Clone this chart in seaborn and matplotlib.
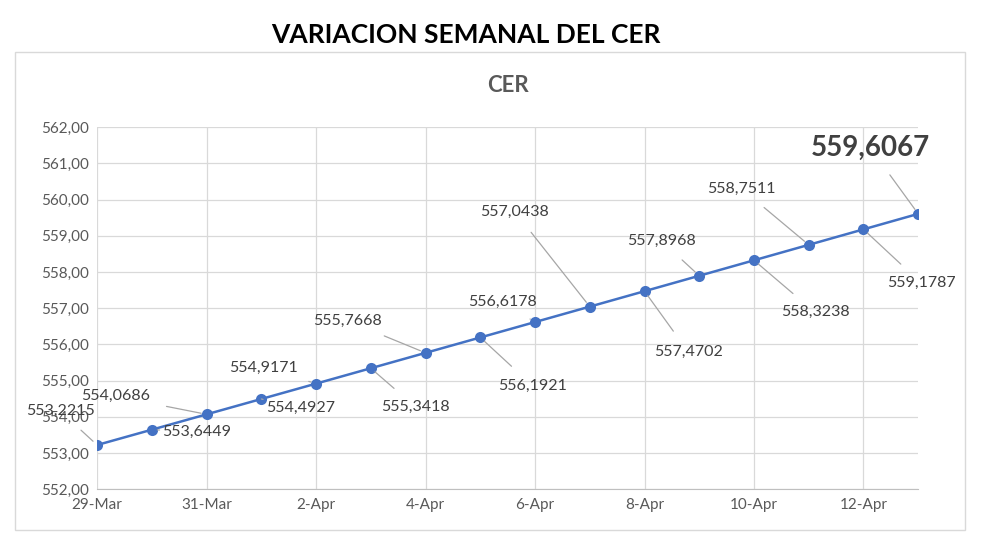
import matplotlib.pyplot as plt
import seaborn as sns
import pandas as pd
from matplotlib.patches import Rectangle

plt.rcParams['font.family'] = 'Lato'

days = list(range(16))
values = [553.2215, 553.6449, 554.0686, 554.4927, 554.9171, 555.3418, 555.7668, 556.1921,
          556.6178, 557.0438, 557.4702, 557.8968, 558.3238, 558.7511, 559.1787, 559.6067]
tick_labels = ['29-Mar', '31-Mar', '2-Apr', '4-Apr', '6-Apr', '8-Apr', '10-Apr', '12-Apr']
# label offsets in pixels (dx, dy)
offsets = [(-37, 34), (45, -2), (-91, 18), (39, -9), (-53, 16), (45, -39), (-78, 32), (52, -48),
           (-33, 20), (-75, 95), (44, -61), (-38, 35), (61, -52), (-67, 56), (58, -54), (-48, 66)]


def fmt(v):
    return f'{v:.4f}'.replace('.', ',')


def main():
    df = pd.DataFrame({'day': days, 'cer': values})
    fig = plt.figure(figsize=(9.81, 5.46), dpi=100)
    fig.patches.append(Rectangle((15 / 981, 16 / 546), 950 / 981, 478 / 546, transform=fig.transFigure,
                                 fill=False, edgecolor='#d9d9d9', lw=1))
    fig.text(0.475, 0.935, 'VARIACION SEMANAL DEL CER', ha='center', va='center',
             fontsize=19, fontweight='bold', color='black')
    ax = fig.add_axes([0.099, 0.104, 0.837, 0.663])
    ax.set_title('CER', fontsize=16, fontweight='bold', color='#595959', pad=25)
    sns.lineplot(data=df, x='day', y='cer', ax=ax, color='#4472c4', lw=1.8,
                 marker='o', markersize=8, markeredgewidth=0)
    for i, (d, v) in enumerate(zip(days, values)):
        dx, dy = offsets[i]
        last = i == len(days) - 1
        ax.annotate(fmt(v), (d, v), xytext=(dx, dy), textcoords='offset pixels',
                    ha='center', va='center', fontsize=20 if last else 11.5,
                    fontweight='bold' if last else 'normal', color='#404040',
                    arrowprops=dict(arrowstyle='-', color='#a6a6a6', lw=0.9, shrinkA=10, shrinkB=4))
    ax.set_xlim(0, 15)
    ax.set_ylim(552, 562)
    ax.set_xticks(days[::2])
    ax.set_xticklabels(tick_labels)
    ax.set_yticks(range(552, 563))
    ax.set_yticklabels([f'{t},00' for t in range(552, 563)])
    ax.grid(True, color='#d9d9d9', lw=0.9)
    ax.set_axisbelow(True)
    for s in ['top', 'right', 'left']:
        ax.spines[s].set_visible(False)
    ax.spines['bottom'].set_color('#bfbfbf')
    ax.tick_params(length=0, labelsize=11, colors='#595959', pad=6)
    ax.set_xlabel('')
    ax.set_ylabel('')
    fig.savefig('out.png', dpi=100)


if __name__ == '__main__':
    main()
